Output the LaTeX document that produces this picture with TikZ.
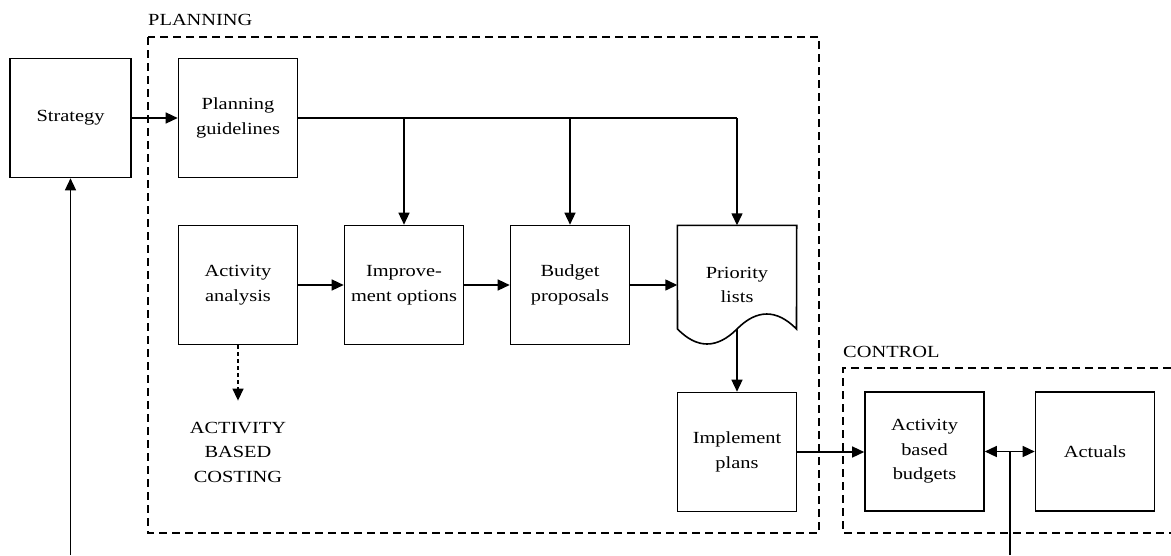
\documentclass[tikz,border=0pt]{standalone}
\usepackage{fontspec}
\setmainfont{Liberation Serif}[FakeStretch=1.2]
\usetikzlibrary{arrows.meta}
\begin{document}
\begin{tikzpicture}[x=1pt,y=-1pt,
  box/.style={draw,line width=1.6pt,minimum width=119pt,minimum height=119pt,align=center,inner sep=2pt,font=\fontsize{17}{24.5}\selectfont},
  ghost/.style={minimum width=119pt,minimum height=119pt,align=center,inner sep=2pt,font=\fontsize{17}{24.5}\selectfont},
  tip/.tip={Triangle[length=12pt,width=11pt]},
  conn/.style={line width=1.4pt,-tip},
  dconn/.style={line width=1.4pt,tip-tip},
  frame/.style={line width=1.4pt,dash pattern=on 8pt off 5pt},
  lbl/.style={font=\fontsize{17}{24.5}\selectfont,inner sep=0pt}]
\useasboundingbox (0,0) rectangle (1171,555);

% frames
\draw[frame] (148,37) rectangle (819,533);
\draw[frame] (1171,368) -- (843,368) -- (843,533) -- (1171,533);
\node[lbl,anchor=base west] (lplan) at (148,25) {PLANNING};
\node[lbl,anchor=base west] (lctrl) at (843,357) {CONTROL};

% nodes
\node[box,minimum width=121pt] (st) at (70.5,118) {Strategy};
\node[box] (pg) at (238,118) {Planning\\guidelines};
\node[box] (aa) at (238,285) {Activity\\analysis};
\node[box] (io) at (404,285) {Improve-\\ment options};
\node[box] (bp) at (570,285) {Budget\\proposals};
\node[ghost] (pl) at (737,285) {Priority\\lists};
\draw[line width=1.6pt,fill=white] (pl.north west) -- (pl.north east) -- (796.5,329)
  .. controls (776.7,309) and (756.8,309) .. (737,329)
  .. controls (717,349) and (697,349) .. (677.5,329) -- cycle;
\node[lbl,align=center] at (pl.center) {Priority\\lists};
\node[box] (ip) at (737,452) {Implement\\plans};
\node[box] (abb) at (924.5,451.5) {Activity\\based\\budgets};
\node[box] (act) at (1095,451.5) {Actuals};
\node[lbl,align=center,inner ysep=21pt] (abc) at (238,452) {ACTIVITY\\BASED\\COSTING};

\coordinate (b1) at (70.5,555);
\coordinate (b2) at (1010,555);

% connectors
\draw[conn] (st.east) -- (pg.west);
\draw[line width=1.4pt] (pg.east) -- (pg.east -| pl.north);
\draw[conn] (pg.east -| pl.north) -- (pl.north);
\draw[conn] (pg.east -| io.north) -- (io.north);
\draw[conn] (pg.east -| bp.north) -- (bp.north);
\draw[conn] (aa.east) -- (io.west);
\draw[conn] (io.east) -- (bp.west);
\draw[conn] (bp.east) -- (pl.west);
\draw[conn] ([yshift=15.5pt]pl.south) -- (ip.north);
\draw[conn,dash pattern=on 4pt off 3pt] (aa.south) -- (abc.north);
\draw[conn] (ip.east) -- (ip.east -| abb.west);
\draw[dconn] (abb.east) -- (act.west);
\draw[line width=1.4pt] (b2) -- (b2 |- abb.east);
\draw[conn] (b1) -- (st.south);
\end{tikzpicture}
\end{document}
